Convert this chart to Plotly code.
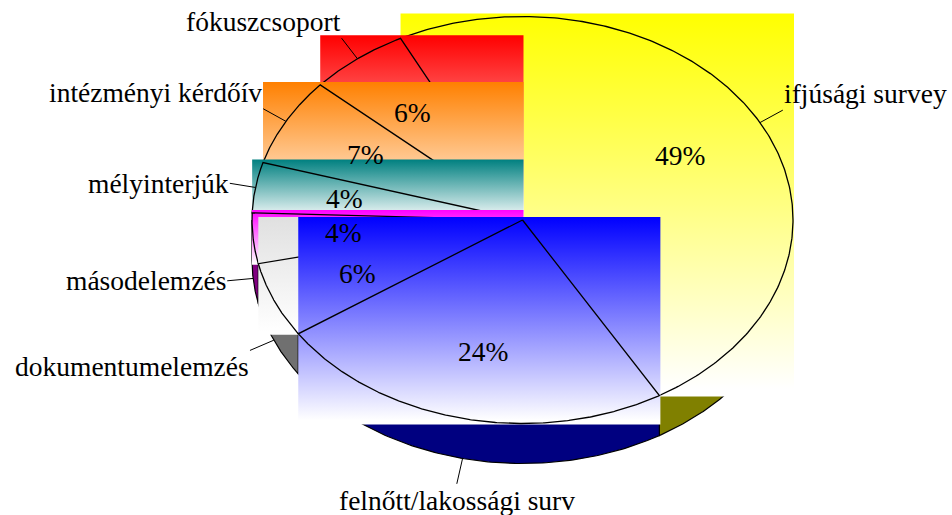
import numpy as np
import plotly.graph_objects as go

# ---------------- data ----------------
categories = ["ifjúsági survey", "felnőtt/lakossági surv", "dokumentumelemzés",
              "másodelemzés", "mélyinterjúk", "intézményi kérdőív", "fókuszcsoport"]
values = [49, 24, 6, 4, 4, 7, 6]
pct_labels = ["49%", "24%", "6%", "4%", "4%", "7%", "6%"]

# ---------------- style ----------------
face_colors = ["#FFFF00", "#0000FF", "#E0E0E0", "#FF00FF", "#008080", "#FF8000", "#FF0000"]
side_colors = ["#808000", "#000080", "#707070", "#800080", "#004040", "#804000", "#800000"]
draw_order = [0, 6, 5, 4, 3, 2, 1]

W, H = 952, 515
CX, CY, RX, RY, DEPTH = 522.5, 220.0, 270.5, 203.5, 40.0
START = 116.8
FONT = dict(family="Liberation Serif", size=27.5, color="black")

total = float(sum(values))
bounds = []
a = START
for v in values:
    b = a - 360.0 * v / total
    bounds.append((a, b))
    a = b


def ell(t, dy=0.0):
    r = np.radians(t)
    return CX + RX * np.cos(r), CY + dy - RY * np.sin(r)


fig = go.Figure()

# ---- side walls (front half only) ----
for i, (a, b) in enumerate(bounds):
    hi = min(a, 0.0)
    lo = max(b, -180.0)
    if lo >= hi:
        continue
    t = np.linspace(hi, lo, 120)
    xt, yt = ell(t)
    xb, yb = ell(t[::-1], DEPTH)
    xs = np.concatenate([xt, xb, xt[:1]])
    ys = np.concatenate([yt, yb, yt[:1]])
    fig.add_trace(go.Scatter(x=xs, y=ys, mode="lines", fill="toself",
                             fillcolor=side_colors[i],
                             line=dict(color="black", width=1.2),
                             hoverinfo="skip", showlegend=False))

# ---- top faces: gradient boxes + outlines ----
for i in draw_order:
    a, b = bounds[i]
    t = np.linspace(a, b, 300)
    xa, ya = ell(t)
    xs_all = np.concatenate([[CX], xa])
    ys_all = np.concatenate([[CY], ya])
    x0, x1 = xs_all.min(), xs_all.max() + 1
    y0, y1 = ys_all.min() - 3, ys_all.max() + 1
    fig.add_trace(go.Scatter(
        x=[x0, x1, x1, x0, x0], y=[y0, y0, y1, y1, y0], mode="lines",
        fill="toself", line=dict(width=0),
        fillgradient=dict(type="vertical",
                          colorscale=[[0, face_colors[i]], [0.98, "#FFFFFF"], [1, "#FFFFFF"]],
                          start=y0, stop=y1),
        hoverinfo="skip", showlegend=False))
    fig.add_trace(go.Scatter(
        x=np.concatenate([[CX], xa, [CX]]), y=np.concatenate([[CY], ya, [CY]]),
        mode="lines", line=dict(color="black", width=1.3),
        hoverinfo="skip", showlegend=False))

# ---- percentage labels ----
for i, (a, b) in enumerate(bounds):
    m = (a + b) / 2
    r = np.radians(m)
    px = CX + 0.665 * RX * np.cos(r)
    py = CY - 0.665 * RY * np.sin(r)
    fig.add_annotation(x=px, y=py, text=pct_labels[i], showarrow=False,
                       xanchor="center", yanchor="middle", font=FONT,
                       borderpad=0)

# ---- category labels with leader lines ----
for i, (a, b) in enumerate(bounds):
    m = (a + b) / 2
    r = np.radians(m)
    c, s = np.cos(r), np.sin(r)
    sx, sy = ell(m, DEPTH if s < 0 else 0.0)
    ex, ey = sx + 26 * c, sy - 26 * s
    fig.add_trace(go.Scatter(x=[sx, ex], y=[sy, ey], mode="lines",
                             line=dict(color="black", width=1),
                             hoverinfo="skip", showlegend=False))
    xanchor = "right" if c < -0.3 else ("left" if c > 0.3 else "center")
    yanchor = "bottom" if s > 0.3 else ("top" if s < -0.3 else "middle")
    fig.add_annotation(x=ex, y=ey, text=categories[i], showarrow=False,
                       xanchor=xanchor, yanchor=yanchor, font=FONT, borderpad=0)

fig.update_layout(
    width=W, height=H,
    margin=dict(l=0, r=0, t=0, b=0),
    paper_bgcolor="white", plot_bgcolor="white",
    showlegend=False,
    xaxis=dict(range=[0, W], visible=False, fixedrange=True),
    yaxis=dict(range=[H, 0], visible=False, fixedrange=True),
)

fig.write_html("out.html", config={"displayModeBar": False},
               post_script="document.body.style.margin='0';document.body.style.overflow='hidden';")
